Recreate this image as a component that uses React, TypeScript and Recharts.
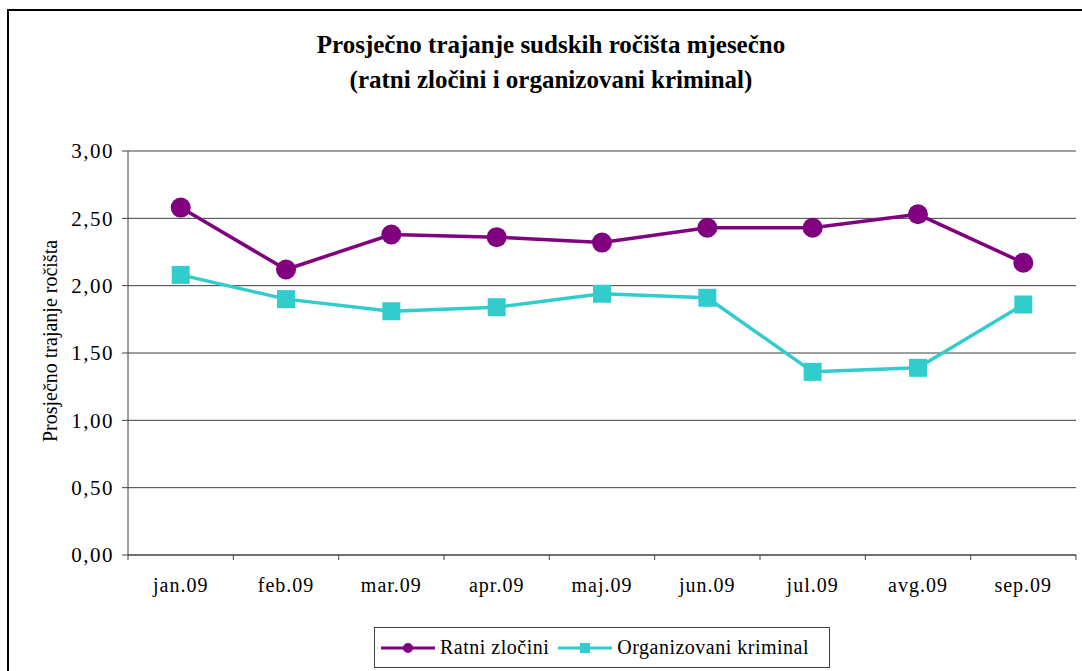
import { LineChart, Line, XAxis, YAxis, CartesianGrid } from 'recharts'

const FONT = '"Liberation Serif", "Times New Roman", serif'
const INK = '#000000'
const RULE = '#404040'

const TITLE_LINES = ['Prosječno trajanje sudskih ročišta mjesečno', '(ratni zločini i organizovani kriminal)']
const Y_LABEL = 'Prosječno trajanje ročišta'

const MONTHS = ['jan.09', 'feb.09', 'mar.09', 'apr.09', 'maj.09', 'jun.09', 'jul.09', 'avg.09', 'sep.09']
const RATNI = [2.58, 2.12, 2.38, 2.36, 2.32, 2.43, 2.43, 2.53, 2.17]
const ORGANIZOVANI = [2.08, 1.9, 1.81, 1.84, 1.94, 1.91, 1.36, 1.39, 1.86]
const Y_TICKS = [0, 0.5, 1, 1.5, 2, 2.5, 3]

const SERIES = [
  { key: 'ratni', name: 'Ratni zločini', color: '#800080', marker: 'circle' },
  { key: 'org', name: 'Organizovani kriminal', color: '#33CCCC', marker: 'square' },
]

// category boundaries 0..n, used only for the tick marks between months
const BOUNDS = [...MONTHS.map((_, i) => i), MONTHS.length]

const data = MONTHS.map((m, i) => ({ month: m, ratni: RATNI[i], org: ORGANIZOVANI[i] }))

const fmt = (v: number) => v.toFixed(2).replace('.', ',')

function SquareDot(props: any) {
  const { cx, cy, fill } = props
  if (cx == null || cy == null) return null
  return <rect x={cx - 9} y={cy - 9} width={18} height={18} fill={fill} />
}

function LegendIcon({ color, marker }: { color: string; marker: string }) {
  return (
    <svg width={54} height={20} style={{ display: 'block' }}>
      <line x1={0} y1={10} x2={54} y2={10} stroke={color} strokeWidth={3} />
      {marker === 'circle'
        ? <circle cx={27} cy={10} r={5} fill={color} />
        : <rect x={22} y={5} width={10} height={10} fill={color} />}
    </svg>
  )
}

export default function App() {
  return (
    <div style={{ position: 'absolute', left: 0, top: 0, width: 1082, height: 671, overflow: 'hidden', background: '#fff', fontFamily: FONT }}>
      {/* outer chart frame, runs off the right and bottom edge */}
      <div style={{ position: 'absolute', left: 7, top: 9, width: 1200, height: 800, border: '2px solid #000' }} />

      <div style={{ position: 'absolute', left: 0, top: 27, width: 1102, textAlign: 'center', fontFamily: FONT, fontSize: 25, fontWeight: 'bold', lineHeight: '35px', color: INK }}>
        {TITLE_LINES.map((t) => <div key={t}>{t}</div>)}
      </div>

      <div style={{ position: 'absolute', left: 50, top: 341, transform: 'translate(-50%, -50%) rotate(-90deg)', whiteSpace: 'nowrap', fontFamily: FONT, fontSize: 20, lineHeight: '20px', color: INK }}>
        {Y_LABEL}
      </div>

      <div style={{ position: 'absolute', left: 0, top: 0 }}>
        <LineChart width={1082} height={671} data={data} margin={{ top: 151, right: 6, bottom: 114, left: 0 }}>
          <CartesianGrid stroke={RULE} vertical={false} xAxisId="cat" />
          <XAxis
            xAxisId="bounds"
            type="number"
            dataKey="__none"
            domain={[0, MONTHS.length]}
            allowDataOverflow
            ticks={BOUNDS}
            height={1}
            interval={0}
            tickFormatter={() => ''}
            tickSize={5}
            axisLine={{ stroke: RULE }}
            tickLine={{ stroke: RULE }}
          />
          <XAxis
            xAxisId="cat"
            dataKey="month"
            height={1}
            padding={{ left: 52.7, right: 52.7 }}
            axisLine={false}
            tickLine={false}
            tickSize={6}
            tickMargin={16}
            interval={0}
            tick={{ fill: INK, fontSize: 20, fontFamily: FONT, letterSpacing: 1 }}
          />
          <YAxis
            width={128}
            domain={[0, 3]}
            ticks={Y_TICKS}
            interval={0}
            tickFormatter={fmt}
            tickSize={6}
            tickMargin={8}
            axisLine={{ stroke: RULE }}
            tickLine={{ stroke: RULE }}
            tick={{ fill: INK, fontSize: 21, fontFamily: FONT, letterSpacing: 1.5 }}
          />
          <Line
            xAxisId="cat"
            dataKey="ratni"
            name={SERIES[0].name}
            stroke={SERIES[0].color}
            strokeWidth={3.5}
            dot={{ r: 10, fill: SERIES[0].color, stroke: 'none' }}
            activeDot={false}
            isAnimationActive={false}
          />
          <Line
            xAxisId="cat"
            dataKey="org"
            name={SERIES[1].name}
            stroke={SERIES[1].color}
            strokeWidth={3.5}
            dot={<SquareDot fill={SERIES[1].color} />}
            activeDot={false}
            isAnimationActive={false}
          />
        </LineChart>
      </div>

      {/* legend box */}
      <div style={{ position: 'absolute', left: 374, top: 627, width: 448, height: 39, border: '1px solid ' + RULE, display: 'flex', alignItems: 'center', paddingLeft: 6, boxSizing: 'content-box', fontFamily: FONT, fontSize: 20, letterSpacing: 0.5, color: INK, whiteSpace: 'nowrap' }}>
        {SERIES.map((s, i) => (
          <div key={s.key} style={{ display: 'flex', alignItems: 'center', marginRight: i === 0 ? 9 : 0 }}>
            <LegendIcon color={s.color} marker={s.marker} />
            <span style={{ marginLeft: 5 }}>{s.name}</span>
          </div>
        ))}
      </div>
    </div>
  )
}
